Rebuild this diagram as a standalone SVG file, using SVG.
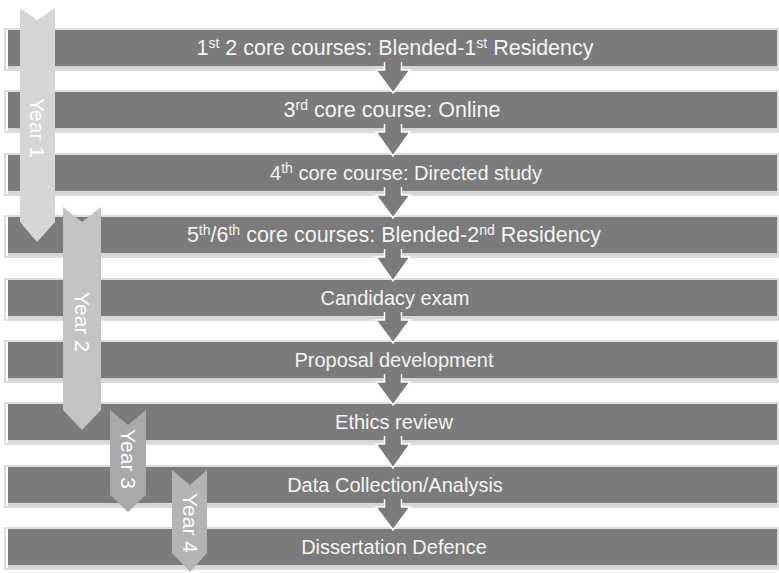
<svg xmlns="http://www.w3.org/2000/svg" width="779" height="573" viewBox="0 0 779 573">
<style>
.frame{fill:#ffffff;stroke:#d2d2d2;stroke-width:1.5}
.bar{fill:#7b7b7b}
.shadow{fill:#d6d6d6}
.lbl{font-family:"Liberation Sans",Arial,sans-serif;font-size:20px;fill:#f4f4f4;text-anchor:middle}
.big{font-size:21.5px}
.sup{font-size:14px}
.down{fill:#7b7b7b;stroke:#ffffff;stroke-width:1.5}
.yr{font-family:"Liberation Sans",Arial,sans-serif;font-size:21px;fill:#ffffff;text-anchor:middle}
</style>
<rect width="779" height="573" fill="#ffffff"/>
<g id="bar1"><rect class="frame" x="5" y="29" width="773" height="41"/><rect class="bar" x="8" y="30" width="769" height="36"/><rect class="shadow" x="8" y="66" width="769" height="3"/>
<text class="lbl big" x="395" y="55">1<tspan class="sup" dy="-7">st</tspan><tspan dy="7"> 2 core courses: Blended-1</tspan><tspan class="sup" dy="-7">st</tspan><tspan dy="7"> Residency</tspan></text></g>
<g id="bar2"><rect class="frame" x="5" y="91" width="773" height="41"/><rect class="bar" x="8" y="92" width="769" height="36"/><rect class="shadow" x="8" y="128" width="769" height="3"/>
<text class="lbl big" x="392" y="117">3<tspan class="sup" dy="-7">rd</tspan><tspan dy="7"> core course: Online</tspan></text></g>
<g id="bar3"><rect class="frame" x="5" y="154" width="773" height="41"/><rect class="bar" x="8" y="155" width="769" height="36"/><rect class="shadow" x="8" y="191" width="769" height="3"/>
<text class="lbl" x="406" y="180">4<tspan class="sup" dy="-7">th</tspan><tspan dy="7"> core course: Directed study</tspan></text></g>
<g id="bar4"><rect class="frame" x="5" y="216" width="773" height="41"/><rect class="bar" x="8" y="217" width="769" height="36"/><rect class="shadow" x="8" y="253" width="769" height="3"/>
<text class="lbl big" x="394" y="242">5<tspan class="sup" dy="-7">th</tspan><tspan dy="7">/6</tspan><tspan class="sup" dy="-7">th</tspan><tspan dy="7"> core courses: Blended-2</tspan><tspan class="sup" dy="-7">nd</tspan><tspan dy="7"> Residency</tspan></text></g>
<g id="bar5"><rect class="frame" x="5" y="279" width="773" height="41"/><rect class="bar" x="8" y="280" width="769" height="36"/><rect class="shadow" x="8" y="316" width="769" height="3"/>
<text class="lbl" x="395" y="305">Candidacy exam</text></g>
<g id="bar6"><rect class="frame" x="5" y="341" width="773" height="41"/><rect class="bar" x="8" y="342" width="769" height="36"/><rect class="shadow" x="8" y="378" width="769" height="3"/>
<text class="lbl" x="394" y="367">Proposal development</text></g>
<g id="bar7"><rect class="frame" x="5" y="403" width="773" height="41"/><rect class="bar" x="8" y="404" width="769" height="36"/><rect class="shadow" x="8" y="440" width="769" height="3"/>
<text class="lbl" x="394" y="429">Ethics review</text></g>
<g id="bar8"><rect class="frame" x="5" y="466" width="773" height="41"/><rect class="bar" x="8" y="467" width="769" height="36"/><rect class="shadow" x="8" y="503" width="769" height="3"/>
<text class="lbl" x="395" y="492">Data Collection/Analysis</text></g>
<g id="bar9"><rect class="frame" x="5" y="528" width="773" height="41"/><rect class="bar" x="8" y="529" width="769" height="36"/><rect class="shadow" x="8" y="565" width="769" height="3"/>
<text class="lbl" x="394" y="554">Dissertation Defence</text></g>
<g id="connectors">
<path class="down" d="M384.5,62 V70 H376 L393,93 L410,70 H401.5 V62"/>
<path class="down" d="M384.5,124 V132 H376 L393,156 L410,132 H401.5 V124"/>
<path class="down" d="M384.5,187 V195 H376 L393,218 L410,195 H401.5 V187"/>
<path class="down" d="M384.5,249 V257 H376 L393,281 L410,257 H401.5 V249"/>
<path class="down" d="M384.5,312 V320 H376 L393,343 L410,320 H401.5 V312"/>
<path class="down" d="M384.5,374 V382 H376 L393,405 L410,382 H401.5 V374"/>
<path class="down" d="M384.5,436 V444 H376 L393,468 L410,444 H401.5 V436"/>
<path class="down" d="M384.5,499 V507 H376 L393,530 L410,507 H401.5 V499"/>
</g>
<g id="year1"><path d="M20,8 L37,20 L55,8 L55,222 L37,242 L20,222 Z" fill="#d6d6d6"/>
<text class="yr" transform="translate(37,128) rotate(90)" dy="7">Year 1</text></g>
<g id="year2"><path d="M63,207 L82,222 L101,207 L101,410 L82,430 L63,410 Z" fill="#c4c4c4"/>
<text class="yr" transform="translate(82,322) rotate(90)" dy="7">Year 2</text></g>
<g id="year3"><path d="M110,410 L128,425 L146,410 L146,495 L128,512 L110,495 Z" fill="#a9a9a9"/>
<text class="yr" transform="translate(128,459) rotate(90)" dy="7">Year 3</text></g>
<g id="year4"><path d="M172,470 L190,485 L207,470 L207,553 L190,572 L172,553 Z" fill="#b4b4b4"/>
<text class="yr" transform="translate(190,523) rotate(90)" dy="7">Year 4</text></g>
</svg>
